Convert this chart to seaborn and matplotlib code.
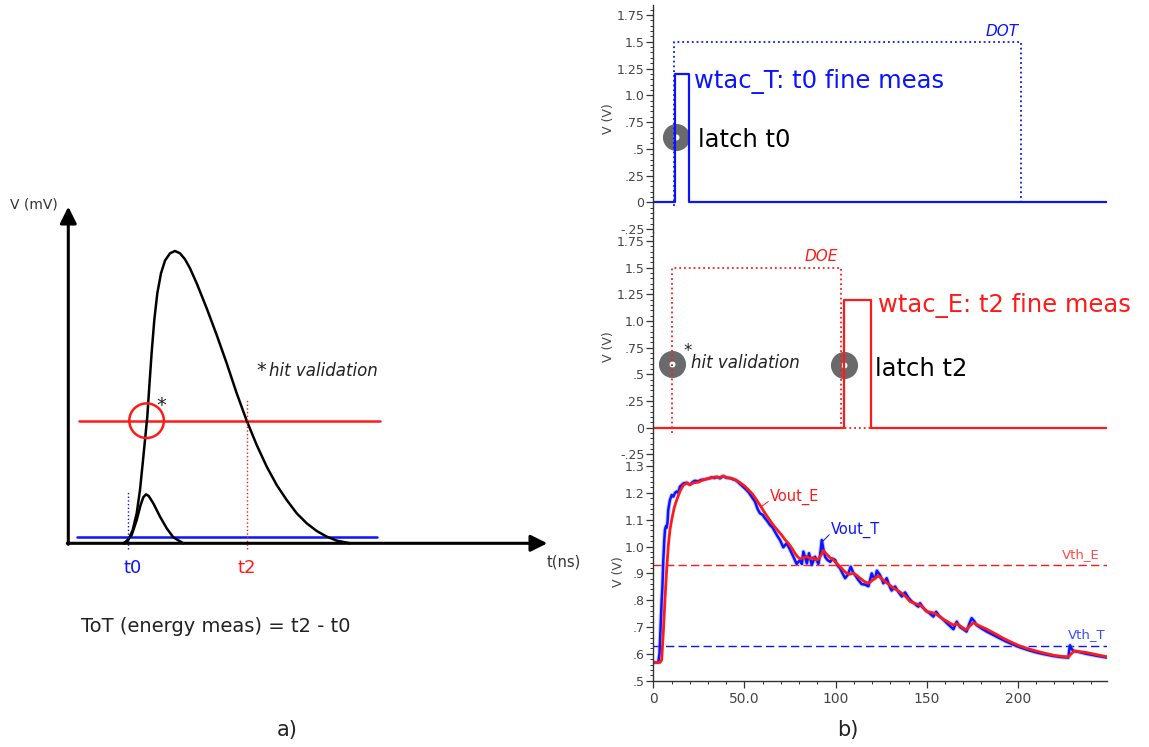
import matplotlib
matplotlib.use("Agg")
import matplotlib.pyplot as plt
import seaborn as sns
from matplotlib.ticker import MultipleLocator
from matplotlib.patches import Circle

# ------------------------------------------------------------------ data
# panel a) schematic pulses (arbitrary units: t, V)
big_pulse_t = [5.5, 6.0, 6.44, 6.84, 7.17, 7.44, 7.67, 7.9, 8.1, 8.33, 8.6, 8.9, 9.27,
               9.67, 10.17, 10.67, 11.17, 11.67, 12.17, 12.84, 13.84, 14.84, 15.84,
               16.84, 17.84, 18.84, 19.84, 20.84, 21.84, 22.84, 23.84, 24.84, 25.84,
               26.84, 28.17]
big_pulse_v = [0.0, 0.33, 1.33, 3.0, 5.33, 8.0, 10.33, 12.67, 15.67, 19.0, 22.33, 25.0,
               27.0, 28.27, 29.0, 29.23, 29.0, 28.4, 27.5, 26.0, 23.5, 20.83, 18.0, 15.0,
               12.26, 9.83, 7.67, 5.83, 4.33, 3.0, 2.0, 1.23, 0.67, 0.27, 0.0]
small_pulse_t = [5.67, 6.34, 6.84, 7.23, 7.5, 7.77, 8.04, 8.5, 9.17, 9.84, 10.5, 11.5]
small_pulse_v = [0.0, 0.83, 2.33, 3.83, 4.6, 4.9, 4.73, 4.0, 2.67, 1.5, 0.6, 0.0]
thr_e_t = [1.1, 31.2]
thr_e_v = [12.26, 12.26]
thr_t_t = [0.83, 30.9]
thr_t_v = [0.6, 0.6]
t0_mark = 6.0
t2_mark = 17.84

# panel b) simulated signals (t in ns, V in volts)
dot_t = [11.4, 11.4, 201.8, 201.8]
dot_v = [-0.03, 1.5, 1.5, 0.0]
wtac_T_t = [0, 11.8, 11.8, 19.6, 19.6, 249]
wtac_T_v = [0, 0, 1.2, 1.2, 0, 0]
doe_t = [10.1, 10.1, 102.8, 102.8, 249]
doe_v = [-0.05, 1.5, 1.5, 0.0, 0.0]
wtac_E_t = [0, 104.6, 104.6, 119.6, 119.6, 249]
wtac_E_v = [0, 0, 1.2, 1.2, 0, 0]
latch_T = (12.3, 0.613)
hit_val = (10.5, 0.595)
latch_E = (104.6, 0.59)

vout_E_t = [0, 3.7, 4.6, 5.5, 6.4, 7.3, 8.2, 9.1, 10.1, 11.5, 12.8, 14.6, 16.5, 18.3,
            20.1, 22.0, 24.7, 27.0, 29.3, 31.5, 33.8, 36.0, 38.4, 40.5, 43.0, 45.3,
            47.6, 50.0, 52.1, 54.5, 56.7, 59.0, 61.3, 63.5, 65.8, 68.0, 70.4, 72.3,
            74.1, 75.9, 77.7, 79.1, 80.5, 82.3, 84.2, 86.0, 87.8, 89.2, 90.5, 92.0,
            93.3, 95.0, 97.0, 98.8, 100.6, 102.4, 104.2, 106.1, 107.9, 109.7, 111.5,
            113.4, 115.7, 118.0, 119.8, 121.6, 123.4, 125.2, 127.1, 129.4, 131.7,
            134.0, 136.3, 138.6, 140.8, 143.5, 146.3, 148.2, 150.0, 152.2, 154.5,
            156.8, 159.1, 161.9, 164.6, 166.4, 168.5, 171.5, 173.5, 175.5, 179.0,
            182.9, 187.5, 192.0, 196.5, 201.2, 205.7, 210.3, 214.9, 219.4, 223.5,
            227.6, 229.2, 230.8, 234.0, 237.7, 243.0, 249.0]
vout_E_v = [0.568, 0.568, 0.577, 0.68, 0.80, 0.91, 1.00, 1.06, 1.10, 1.145, 1.173, 1.205,
            1.229, 1.236, 1.231, 1.237, 1.240, 1.247, 1.252, 1.255, 1.259, 1.257, 1.262,
            1.257, 1.254, 1.248, 1.238, 1.226, 1.212, 1.195, 1.173, 1.149, 1.124, 1.102,
            1.080, 1.062, 1.043, 1.025, 1.012, 0.995, 0.975, 0.962, 0.954, 0.958, 0.963,
            0.955, 0.959, 0.950, 0.952, 0.968, 0.985, 0.972, 0.958, 0.950, 0.937, 0.925,
            0.912, 0.900, 0.897, 0.901, 0.893, 0.882, 0.870, 0.863, 0.872, 0.882, 0.891,
            0.880, 0.869, 0.858, 0.845, 0.836, 0.826, 0.812, 0.795, 0.788, 0.782, 0.770,
            0.757, 0.755, 0.751, 0.740, 0.729, 0.718, 0.707, 0.713, 0.703, 0.689, 0.703,
            0.716, 0.704, 0.692, 0.675, 0.658, 0.643, 0.629, 0.619, 0.610, 0.602, 0.595,
            0.591, 0.589, 0.600, 0.611, 0.608, 0.605, 0.597, 0.589]

vout_T_t = [0, 2.7, 3.4, 4.0, 4.6, 5.0, 5.5, 6.0, 6.4, 6.9, 7.3, 7.8, 8.2, 9.1, 10.1,
            11.0, 11.9, 12.8, 13.7, 14.6, 16.5, 18.3, 20.1, 21.5, 22.8, 24.7, 26.0,
            28.0, 30.0, 32.0, 33.5, 35.0, 36.5, 38.4, 40.0, 42.0, 44.0, 45.5, 47.6,
            50.0, 52.1, 54.0, 55.8, 57.2, 58.5, 60.0, 61.3, 62.5, 64.0, 65.3, 66.7,
            68.0, 69.5, 71.3, 73.1, 74.5, 75.9, 77.3, 78.6, 80.5, 81.5, 82.3, 83.3,
            84.2, 85.4, 86.9, 88.7, 89.6, 90.5, 91.5, 92.4, 93.3, 94.2, 95.5, 97.0,
            98.3, 99.7, 101.0, 102.4, 103.8, 105.2, 106.7, 108.3, 109.5, 110.6, 112.5,
            114.3, 116.2, 118.0, 119.8, 120.7, 121.7, 122.6, 124.3, 125.2, 126.2,
            128.0, 129.4, 130.7, 132.6, 134.5, 136.3, 138.1, 140.0, 141.8, 143.6,
            145.4, 146.3, 147.7, 149.1, 151.4, 153.6, 155.1, 156.7, 158.2, 161.4,
            164.6, 166.4, 168.2, 170.0, 171.8, 173.2, 174.6, 176.0, 177.3, 180.0,
            182.9, 187.5, 192.0, 196.5, 201.2, 205.7, 210.3, 214.9, 219.4, 223.5,
            227.6, 228.5, 229.5, 230.4, 234.0, 237.7, 243.0, 249.0]
vout_T_v = [0.568, 0.568, 0.60, 0.70, 0.80, 0.85, 0.95, 1.02, 1.062, 1.075, 1.070, 1.09,
            1.136, 1.173, 1.192, 1.186, 1.200, 1.205, 1.200, 1.223, 1.235, 1.238, 1.230,
            1.240, 1.245, 1.243, 1.248, 1.250, 1.253, 1.258, 1.255, 1.260, 1.254, 1.263,
            1.256, 1.255, 1.250, 1.246, 1.233, 1.218, 1.204, 1.185, 1.167, 1.140, 1.124,
            1.118, 1.105, 1.095, 1.080, 1.072, 1.055, 1.040, 1.024, 0.997, 1.012, 0.995,
            0.975, 0.955, 0.935, 0.950, 0.935, 0.981, 0.960, 0.937, 0.975, 0.931, 0.962,
            0.950, 0.935, 0.970, 1.024, 0.990, 0.962, 0.950, 0.943, 0.955, 0.950, 0.930,
            0.919, 0.900, 0.882, 0.895, 0.925, 0.905, 0.894, 0.875, 0.860, 0.858, 0.852,
            0.900, 0.885, 0.882, 0.910, 0.894, 0.880, 0.863, 0.882, 0.855, 0.836, 0.851,
            0.830, 0.814, 0.829, 0.808, 0.795, 0.785, 0.776, 0.789, 0.775, 0.764, 0.752,
            0.739, 0.757, 0.742, 0.733, 0.712, 0.692, 0.720, 0.700, 0.692, 0.683, 0.710,
            0.733, 0.722, 0.707, 0.695, 0.683, 0.667, 0.651, 0.637, 0.624, 0.614, 0.605,
            0.598, 0.592, 0.588, 0.586, 0.632, 0.618, 0.611, 0.606, 0.600, 0.593, 0.586]
vth_E = 0.93
vth_T = 0.629

sig_ticks = [-0.25, 0, 0.25, 0.5, 0.75, 1.0, 1.25, 1.5, 1.75]
sig_labels = ["-.25", "0", ".25", ".5", ".75", "1.0", "1.25", "1.5", "1.75"]
out_ticks = [0.5, 0.6, 0.7, 0.8, 0.9, 1.0, 1.1, 1.2, 1.3]
out_labels = [".5", ".6", ".7", ".8", ".9", "1.0", "1.1", "1.2", "1.3"]
x_ticks = [0, 50, 100, 150, 200]
x_labels = ["0", "50.0", "100", "150", "200"]

# ------------------------------------------------------------------ style
sns.set_theme(style="white")
plt.rcParams["font.family"] = ["DejaVu Sans"]

BLUE = "#0a14ff"
RED = "#ff1a1a"
GRAY = "#444444"

W, H = 1149, 747
fig = plt.figure(figsize=(W / 100, H / 100), dpi=100)


def line(ax, t, v, **kw):
    sns.lineplot(x=t, y=v, ax=ax, sort=False, estimator=None, legend=False, **kw)


def px_axes(left, top, right, bottom):
    return fig.add_axes([left / W, 1 - bottom / H, (right - left) / W, (bottom - top) / H])


# ------------------------------------------------------------------ panel a
ax_a = px_axes(0, 180, 600, 747)
ax_a.set_xlim(-6.83, 53.17)
ax_a.set_ylim(-20.37, 36.33)
ax_a.axis("off")

arrow = dict(arrowstyle="-|>,head_length=0.4,head_width=0.2", mutation_scale=25,
             lw=2.2, color="black", shrinkA=0, shrinkB=0)
ax_a.annotate("", xy=(0, 33.66), xytext=(0, -0.1), arrowprops=arrow)
ax_a.annotate("", xy=(47.9, 0), xytext=(-0.1, 0), arrowprops=arrow)

line(ax_a, thr_t_t, thr_t_v, color=BLUE, lw=1.8)
line(ax_a, thr_e_t, thr_e_v, color=RED, lw=1.8)
line(ax_a, big_pulse_t, big_pulse_v, color="black", lw=1.8)
line(ax_a, small_pulse_t, small_pulse_v, color="black", lw=1.8)
ax_a.plot([t0_mark, t0_mark], [-0.6, 5.2], color=BLUE, lw=1.0, ls=":")
ax_a.plot([t2_mark, t2_mark], [-0.6, 14.3], color=RED, lw=1.0, ls=":")
ax_a.add_patch(Circle((7.83, 12.26), 1.73, fill=False, ec=RED, lw=1.8, zorder=4))

ax_a.text(-3.43, 33.83, "V (mV)", ha="center", va="center", fontsize=10, color="#333333")
ax_a.text(47.84, -1.84, "t(ns)", ha="left", va="center", fontsize=10.5, color="#333333")
ax_a.text(6.44, -2.47, "t0", ha="center", va="center", fontsize=13, color=BLUE)
ax_a.text(17.8, -2.47, "t2", ha="center", va="center", fontsize=13, color=RED)
ax_a.text(9.34, 13.2, "*", ha="center", va="baseline", fontsize=14, color="#222222")
ax_a.text(19.34, 16.7, "*", ha="center", va="baseline", fontsize=14, color="#222222")
ax_a.text(20.1, 16.7, "hit validation", ha="left", va="baseline", fontsize=12,
          style="italic", color="#222222")
ax_a.text(1.24, -8.27, "ToT (energy meas) = t2 - t0", ha="left", va="center",
          fontsize=14, color="#222222")

fig.text(287.5 / W, 1 - 730 / H, "a)", ha="center", va="center", fontsize=15, color="#222222")
fig.text(848 / W, 1 - 730 / H, "b)", ha="center", va="center", fontsize=15, color="#222222")

# ------------------------------------------------------------------ panel b
L, R = 653.3, 1107.3
ax1 = px_axes(L, 5.4, R, 232.3)
ax2 = px_axes(L, 232.3, R, 461.9)
ax3 = px_axes(L, 462.0, R, 680.7)


def style_axis(ax, bottom=False):
    for s in ["top", "right"]:
        ax.spines[s].set_visible(False)
    ax.spines["bottom"].set_visible(bottom)
    for s in ["left", "bottom"]:
        ax.spines[s].set_color("#333333")
        ax.spines[s].set_linewidth(1.0)
    ax.set_facecolor("none")
    ax.tick_params(axis="y", which="major", direction="out", length=5, width=0.9,
                   color="#333333", labelcolor=GRAY, labelsize=9, pad=1.5, left=True)
    ax.tick_params(axis="y", which="minor", direction="out", length=2.5, width=0.7,
                   color="#333333", left=True)
    if bottom:
        ax.tick_params(axis="x", which="major", direction="out", length=5, width=0.9,
                       color="#333333", labelcolor=GRAY, labelsize=10, pad=3, bottom=True)
        ax.tick_params(axis="x", which="minor", direction="out", length=2.5, width=0.7,
                       color="#333333", bottom=True)
    else:
        ax.tick_params(axis="x", which="both", bottom=False, labelbottom=False)
    ax.set_xlim(0, 249)


def donut(ax, t, v):
    ax.plot([t], [v], marker="o", ms=12, mfc="white", mec="#5a5a5a",
            mew=7.5, alpha=0.9, zorder=1.5, ls="none")


# -- top: DOT / wtac_T
line(ax1, dot_t, dot_v, color=BLUE, lw=1.3, linestyle=":")
line(ax1, wtac_T_t, wtac_T_v, color=BLUE, lw=1.6)
donut(ax1, *latch_T)
ax1.text(200.3, 1.594, "DOT", ha="right", va="center", fontsize=11, style="italic", color=BLUE)
ax1.text(22.2, 1.065, "wtac_T: t0 fine meas", ha="left", va="baseline", fontsize=17.5,
         color=BLUE)
ax1.text(24.7, 0.514, "latch t0", ha="left", va="baseline", fontsize=17.5, color="black")
ax1.set_ylim(-0.28, 1.84)
ax1.set_yticks(sig_ticks, sig_labels)
ax1.yaxis.set_minor_locator(MultipleLocator(0.05))
style_axis(ax1)

# -- middle: DOE / wtac_E
line(ax2, doe_t, doe_v, color=RED, lw=1.3, linestyle=":")
line(ax2, wtac_E_t, wtac_E_v, color=RED, lw=1.6)
donut(ax2, *hit_val)
donut(ax2, *latch_E)
ax2.text(101.3, 1.6, "DOE", ha="right", va="center", fontsize=11, style="italic", color=RED)
ax2.text(123.5, 1.08, "wtac_E: t2 fine meas", ha="left", va="baseline", fontsize=17.5,
         color=RED)
ax2.text(19.0, 0.675, "*", ha="center", va="baseline", fontsize=12, color="#222222")
ax2.text(20.6, 0.556, "hit validation", ha="left", va="baseline", fontsize=12,
         style="italic", color="#222222")
ax2.text(121.6, 0.487, "latch t2", ha="left", va="baseline", fontsize=17.5, color="black")
ax2.set_ylim(-0.32, 1.83)
ax2.set_yticks(sig_ticks, sig_labels)
ax2.yaxis.set_minor_locator(MultipleLocator(0.05))
style_axis(ax2)

# -- bottom: Vout
ax3.axhline(vth_E, color=RED, lw=1.0, dashes=(6, 3))
ax3.axhline(vth_T, color=BLUE, lw=1.0, dashes=(6, 3))
line(ax3, vout_T_t, vout_T_v, color="#8c8cff", lw=3.2, alpha=0.45)
line(ax3, vout_T_t, vout_T_v, color=BLUE, lw=1.8)
line(ax3, vout_E_t, vout_E_v, color=RED, lw=2.0)
ax3.plot([63.1, 58.9], [1.168, 1.147], color=RED, lw=0.7)
ax3.plot([96.5, 92.9], [1.044, 1.019], color=BLUE, lw=0.7)
ax3.text(64.0, 1.171, "Vout_E", ha="left", va="baseline", fontsize=10.5, color=RED)
ax3.text(97.3, 1.047, "Vout_T", ha="left", va="baseline", fontsize=10.5, color=BLUE)
ax3.text(244.6, 0.956, "Vth_E", ha="right", va="baseline", fontsize=9.5, color="#ff4a4a")
ax3.text(247.8, 0.658, "Vth_T", ha="right", va="baseline", fontsize=9.5, color="#3a50ff")
ax3.set_ylim(0.5, 1.315)
ax3.set_yticks(out_ticks, out_labels)
ax3.yaxis.set_minor_locator(MultipleLocator(0.02))
ax3.set_xticks(x_ticks, x_labels)
ax3.xaxis.set_minor_locator(MultipleLocator(10))
style_axis(ax3, bottom=True)

for ax, xr in ((ax1, 615), (ax2, 615), (ax3, 625)):
    ax.set_xlabel("")
    ax.set_ylabel("V (V)", fontsize=9, color=GRAY)
    ax.yaxis.set_label_coords((xr - L) / (R - L), 0.5)

fig.savefig("out.png", dpi=100)
